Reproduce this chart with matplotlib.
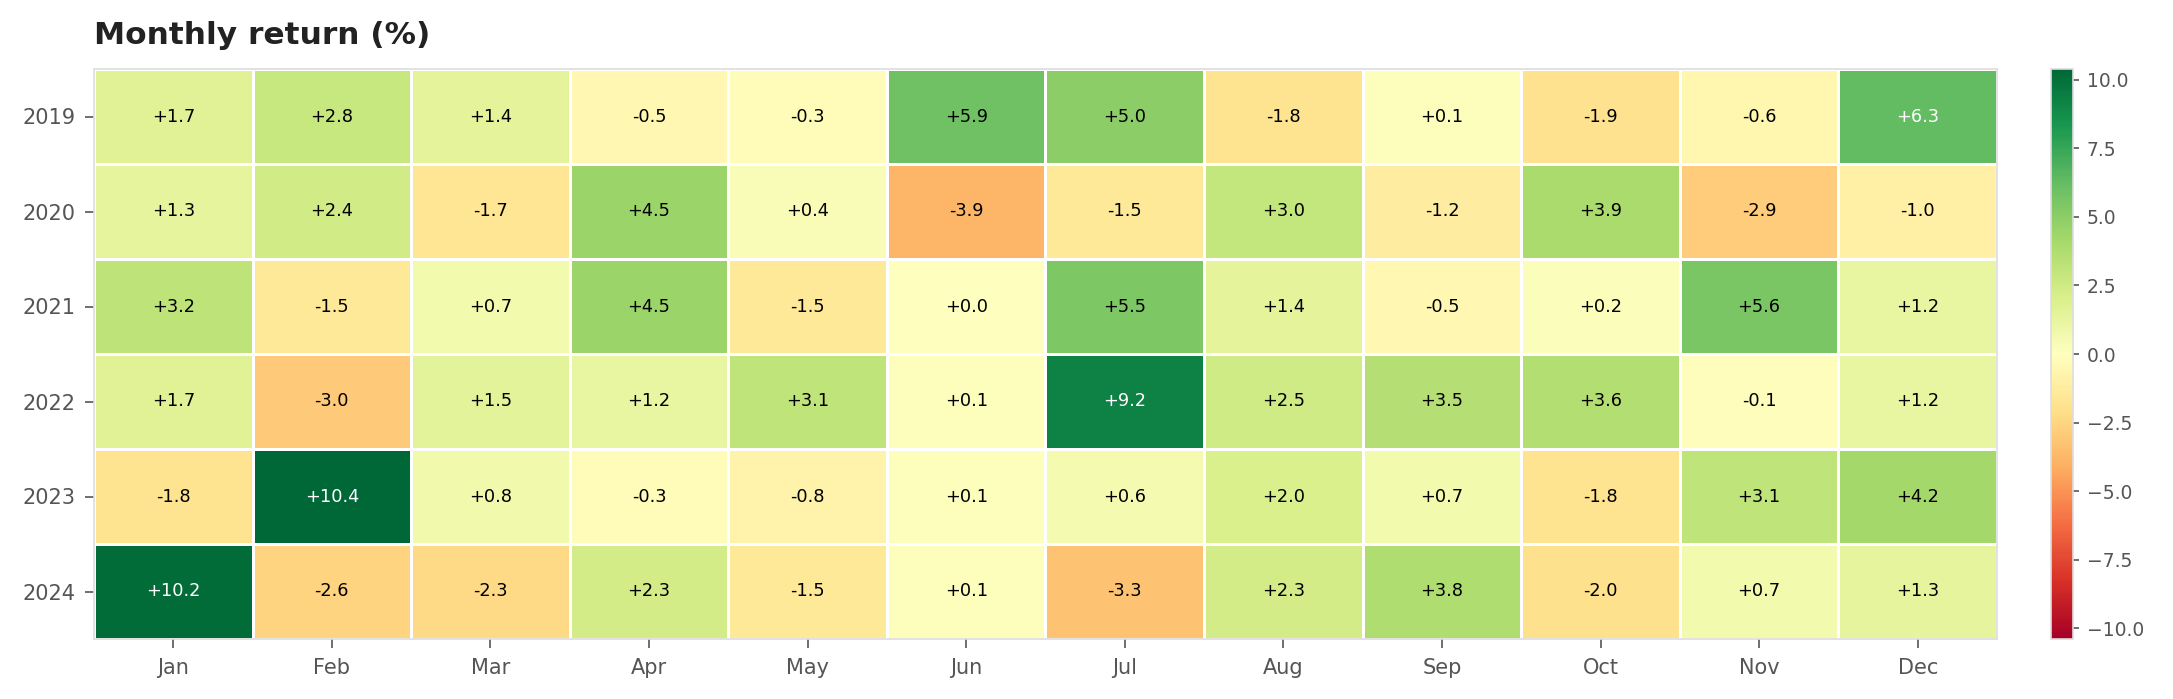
import matplotlib
matplotlib.use("Agg")
import matplotlib.pyplot as plt
import numpy as np

months = ["Jan", "Feb", "Mar", "Apr", "May", "Jun",
          "Jul", "Aug", "Sep", "Oct", "Nov", "Dec"]
years = ["2019", "2020", "2021", "2022", "2023", "2024"]

r2019 = [1.7, 2.8, 1.4, -0.5, -0.3, 5.9, 5.0, -1.8, 0.1, -1.9, -0.6, 6.3]
r2020 = [1.3, 2.4, -1.7, 4.5, 0.4, -3.9, -1.5, 3.0, -1.2, 3.9, -2.9, -1.0]
r2021 = [3.2, -1.5, 0.7, 4.5, -1.5, 0.0, 5.5, 1.4, -0.5, 0.2, 5.6, 1.2]
r2022 = [1.7, -3.0, 1.5, 1.2, 3.1, 0.1, 9.2, 2.5, 3.5, 3.6, -0.1, 1.2]
r2023 = [-1.8, 10.4, 0.8, -0.3, -0.8, 0.1, 0.6, 2.0, 0.7, -1.8, 3.1, 4.2]
r2024 = [10.2, -2.6, -2.3, 2.3, -1.5, 0.1, -3.3, 2.3, 3.8, -2.0, 0.7, 1.3]

returns = np.array([r2019, r2020, r2021, r2022, r2023, r2024])
vlim = np.abs(returns).max()

W, H, DPI = 2173, 699, 150
fig = plt.figure(figsize=(W / DPI, H / DPI), dpi=DPI)

left, right, top, bottom = 94, 1997, 69, 639
ax = fig.add_axes([left / W, 1 - bottom / H, (right - left) / W, (bottom - top) / H])
cax = fig.add_axes([2051 / W, 1 - bottom / H, 22 / W, (bottom - top) / H])

mesh = ax.pcolormesh(returns, cmap="RdYlGn", vmin=-vlim, vmax=vlim,
                     edgecolors="white", linewidth=1.2)
ax.set_xlim(0, len(months))
ax.set_ylim(len(years), 0)

# cell labels, white on the darkest cells
for i in range(len(years)):
    for j in range(len(months)):
        v = returns[i, j]
        color = "white" if abs(v) > 6 else "black"
        ax.text(j + 0.5, i + 0.5, f"{v:+.1f}", ha="center", va="center",
                fontsize=8.5, color=color)

ax.set_xticks(np.arange(len(months)) + 0.5)
ax.set_xticklabels(months)
ax.set_yticks(np.arange(len(years)) + 0.5)
ax.set_yticklabels(years)
ax.tick_params(colors="#555555", labelsize=10, length=4.2, width=0.8, pad=4.8)
for sp in ax.spines.values():
    sp.set_color("#dddddd")
    sp.set_linewidth(0.8)

ax.set_title("Monthly return (%)", loc="left", fontsize=15,
             fontweight="bold", color="#222222", pad=12)

cb = fig.colorbar(mesh, cax=cax)
cb.set_ticks([-10, -7.5, -5, -2.5, 0, 2.5, 5, 7.5, 10])
cb.ax.tick_params(colors="#555555", labelsize=9, length=3, width=0.8)
cb.outline.set_edgecolor("#dddddd")
cb.outline.set_linewidth(0.8)

fig.savefig("out.png", dpi=DPI)
